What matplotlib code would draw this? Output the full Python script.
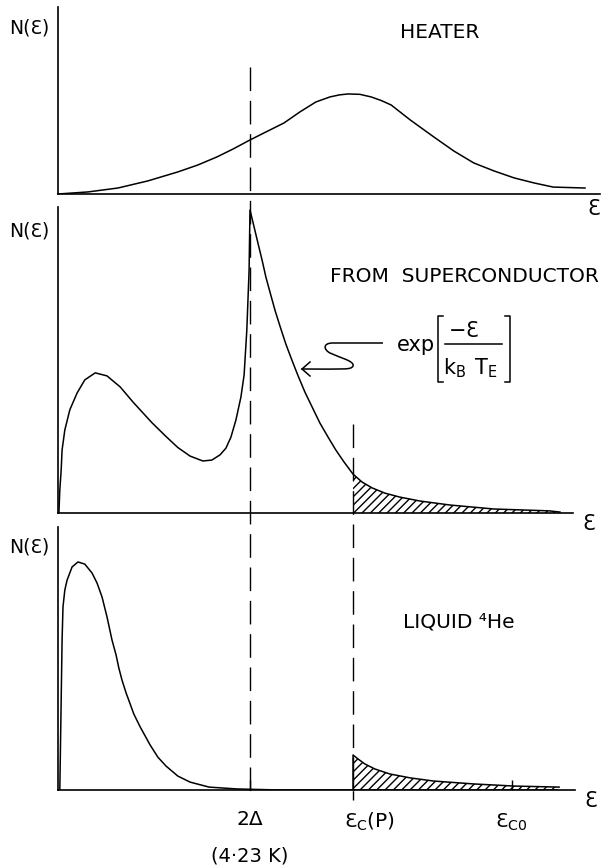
import matplotlib
matplotlib.use("Agg")
import matplotlib.pyplot as plt
from matplotlib.path import Path
from matplotlib.patches import PathPatch

plt.rcParams["font.family"] = ["DejaVu Sans"]
plt.rcParams["mathtext.fontset"] = "custom"
plt.rcParams["mathtext.rm"] = "DejaVu Sans"
plt.rcParams["mathtext.it"] = "DejaVu Sans"
plt.rcParams["mathtext.sf"] = "DejaVu Sans"
plt.rcParams["hatch.linewidth"] = 1.0
plt.rcParams["lines.scale_dashes"] = False

# ---------------- data (energy in K, N normalised to panel height) ----------------
two_delta = 4.23
eps_cP = 6.5
eps_c0 = 10.0

heater_E = [0.0, 0.66, 1.32, 1.98, 2.64, 3.08, 3.50, 3.86, 4.23, 4.60, 4.98, 5.33,
            5.68, 5.99, 6.20, 6.39, 6.65, 6.90, 7.12, 7.34, 7.76, 8.28, 8.72,
            9.16, 9.61, 10.05, 10.49, 10.91, 11.61]
heater_N = [0.0, 0.011, 0.032, 0.070, 0.118, 0.155, 0.198, 0.241, 0.289, 0.334,
            0.380, 0.439, 0.492, 0.519, 0.530, 0.535, 0.533, 0.519, 0.500, 0.476,
            0.396, 0.305, 0.230, 0.166, 0.123, 0.086, 0.059, 0.037, 0.032]

sc_E = [0.02, 0.04, 0.07, 0.09, 0.15, 0.26, 0.42, 0.59, 0.82, 1.08, 1.37, 1.65,
        1.81, 2.07, 2.38, 2.64, 2.91, 3.19, 3.39, 3.57, 3.70, 3.81, 3.92, 4.03,
        4.10, 4.16, 4.21, 4.23, 4.32, 4.41, 4.50, 4.58, 4.67, 4.78, 4.89, 5.02,
        5.16, 5.29, 5.44, 5.60, 5.77, 5.95, 6.12, 6.30, 6.50, 6.70, 6.92, 7.20,
        7.53, 7.98, 8.64, 9.61, 10.82, 11.06]
sc_N = [0.0, 0.075, 0.141, 0.206, 0.271, 0.337, 0.392, 0.435, 0.458, 0.448,
        0.412, 0.363, 0.337, 0.295, 0.250, 0.214, 0.186, 0.170, 0.173, 0.190,
        0.212, 0.248, 0.304, 0.379, 0.451, 0.598, 0.794, 0.990, 0.935, 0.879,
        0.824, 0.771, 0.722, 0.663, 0.611, 0.552, 0.497, 0.448, 0.395, 0.346,
        0.294, 0.248, 0.206, 0.167, 0.127, 0.101, 0.082, 0.065, 0.052, 0.039,
        0.026, 0.013, 0.007, 0.003]

he_E = [0.04, 0.07, 0.09, 0.11, 0.15, 0.20, 0.31, 0.44, 0.59, 0.75, 0.86, 0.97,
        1.08, 1.19, 1.28, 1.34, 1.41, 1.50, 1.59, 1.67, 1.81, 2.03, 2.20, 2.38,
        2.64, 2.91, 3.33, 3.94, 4.89, 11.0]
he_N = [0.0, 0.342, 0.570, 0.696, 0.760, 0.798, 0.848, 0.867, 0.859, 0.825,
        0.787, 0.734, 0.658, 0.570, 0.513, 0.464, 0.418, 0.369, 0.327, 0.289,
        0.240, 0.171, 0.125, 0.091, 0.053, 0.030, 0.011, 0.004, 0.0, 0.0]

tail_E = [6.50, 6.50, 6.61, 6.76, 6.98, 7.31, 7.76, 8.28, 9.16, 10.05, 11.04]
tail_N = [0.0, 0.133, 0.118, 0.099, 0.080, 0.061, 0.046, 0.034, 0.023, 0.015, 0.011]

tick_pos = [two_delta, eps_cP, eps_c0]

# ---------------- layout ----------------
W, H = 614, 867
fig = plt.figure(figsize=(W / 100, H / 100), dpi=100)
X0 = 58.0
S = 45.39  # px per K


def panel(top, base, right):
    ax = fig.add_axes([X0 / W, 1 - base / H, (right - X0) / W, (base - top) / H])
    ax.set_xlim(0, (right - X0) / S)
    ax.set_ylim(0, 1)
    for s in ("top", "right"):
        ax.spines[s].set_visible(False)
    for s in ("left", "bottom"):
        ax.spines[s].set_linewidth(1.2)
    ax.set_yticks([])
    ax.set_xticks([])
    ax.patch.set_alpha(0)
    return ax


ax1 = panel(7, 194, 600)
ax2 = panel(207, 513, 573)
ax3 = panel(527, 790, 575)

lw = 1.1
ax1.plot(heater_E, heater_N, color="black", lw=lw)
ax2.plot(sc_E, sc_N, color="black", lw=lw)
ax3.plot(he_E, he_N, color="black", lw=lw)
ax3.plot(tail_E, tail_N, color="black", lw=lw)

# hatched areas above eps_c(P)
sel = [i for i, e in enumerate(sc_E) if e >= eps_cP]
ax2.fill_between([sc_E[i] for i in sel], [sc_N[i] for i in sel], 0,
                 facecolor="none", edgecolor="black", hatch="////", linewidth=0)
ax3.fill_between(tail_E[1:], tail_N[1:], 0,
                 facecolor="none", edgecolor="black", hatch="////", linewidth=0)

# tick marks on bottom axis
ax3.set_xticks(tick_pos)
ax3.set_xticklabels([])
ax3.tick_params(axis="x", direction="in", length=7, width=1.0)

tr = ax3.get_xaxis_transform()
ax3.text(two_delta, -0.114, "2Δ", fontsize=14.5, ha="center", va="center", transform=tr)
ax3.text(two_delta, -0.251, "(4·23 K)", fontsize=14, ha="center", va="center", transform=tr)
ax3.text(eps_cP - 0.2, -0.1445, r"$Ɛ_C(P)$", fontsize=14.5, ha="left", va="baseline",
         transform=tr)
ax3.text(eps_c0 - 0.37, -0.1445, r"$Ɛ_{C0}$", fontsize=14.5, ha="left", va="baseline",
         transform=tr)

# dashed vertical guide lines spanning panels
ov = fig.add_axes([0, 0, 1, 1])
ov.set_xlim(-X0 / S, (W - X0) / S)
ov.set_ylim(H, 0)
ov.axis("off")
ov.patch.set_alpha(0)
ov.plot([two_delta, two_delta], [67, 800], color="black", lw=1.0, dashes=(17, 7))
ov.plot([eps_cP, eps_cP], [424, 800], color="black", lw=1.0, dashes=(17, 7))


def fx(px):
    return (px - X0) / S


# text labels (figure pixel positions)
def ftext(x, y, s, **kw):
    fig.text(x / W, 1 - y / H, s, **kw)


for y in (28, 231, 547):
    ftext(29, y, "N(Ɛ)", fontsize=13.5, ha="center", va="center")
for x, y in ((594, 209), (589, 524), (591, 801)):
    ftext(x, y, "Ɛ", fontsize=15, ha="center", va="center")

ftext(440, 32, "HEATER", fontsize=14.5, ha="center", va="center")
ftext(464, 277, "FROM  SUPERCONDUCTOR", fontsize=14.5, ha="center", va="center")
ftext(459, 622, "LIQUID ⁴He", fontsize=14.5, ha="center", va="center")

# exp[-E / (kB TE)] built from pieces
ftext(397, 345, "exp", fontsize=15, ha="left", va="center")
ftext(464, 331, r"$-Ɛ$", fontsize=15, ha="center", va="center")
ftext(470, 368, r"$k_B\;\,T_E$", fontsize=15, ha="center", va="center")
bl, br, bt, bb, serif = 438, 510, 316, 382, 5
ov.plot([fx(bl + serif), fx(bl), fx(bl), fx(bl + serif)], [bt, bt, bb, bb],
        color="black", lw=1.1)
ov.plot([fx(br - serif), fx(br), fx(br), fx(br - serif)], [bt, bt, bb, bb],
        color="black", lw=1.1)
ov.plot([fx(445), fx(502)], [344, 344], color="black", lw=1.1)

# squiggle arrow pointing at the exponential tail
verts = [(383, 343), (333, 343),
         (322, 343), (324, 350), (330, 353),
         (338, 357), (355, 361), (353, 366),
         (351, 370), (345, 369), (302, 369)]
codes = [Path.MOVETO, Path.LINETO,
         Path.CURVE4, Path.CURVE4, Path.CURVE4,
         Path.CURVE4, Path.CURVE4, Path.CURVE4,
         Path.CURVE4, Path.CURVE4, Path.CURVE4]
pv = [(fx(x), y) for x, y in verts]
ov.add_patch(PathPatch(Path(pv, codes), facecolor="none", edgecolor="black", lw=1.1))
for dy in (-7, 7):
    ov.plot([fx(302), fx(310)], [369, 369 + dy], color="black", lw=1.1)

fig.savefig("out.png", dpi=100)
